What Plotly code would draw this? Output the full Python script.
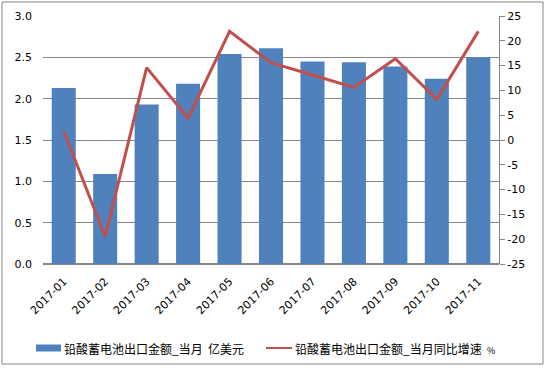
import plotly.graph_objects as go

months = ["2017-01", "2017-02", "2017-03", "2017-04", "2017-05", "2017-06",
          "2017-07", "2017-08", "2017-09", "2017-10", "2017-11"]
export_value = [2.13, 1.09, 1.93, 2.18, 2.54, 2.61, 2.45, 2.44, 2.39, 2.24, 2.50]
yoy_growth = [1.8, -19.5, 14.6, 4.4, 21.9, 15.6, 13.1, 10.6, 16.4, 8.2, 21.9]
right_ticks = [-25, -20, -15, -10, -5, 0, 5, 10, 15, 20, 25]
right_labels = [str(v) for v in right_ticks]

bar_name = "铅酸蓄电池出口金额_当月  亿美元"
line_name = "铅酸蓄电池出口金额_当月同比增速  <span style='font-size:9px'>%</span>"

BAR_COLOR = "#4F81BD"
LINE_COLOR = "#C0504D"
GRID = "#868686"

fig = go.Figure()
fig.add_trace(go.Bar(x=months, y=export_value, name=bar_name,
                     marker=dict(color=BAR_COLOR, line=dict(width=0)),
                     yaxis="y", showlegend=False))
fig.add_trace(go.Scatter(x=months, y=yoy_growth, name=line_name, mode="lines",
                         line=dict(color=LINE_COLOR, width=3),
                         yaxis="y2", showlegend=False))

tick_font = dict(family="DejaVu Sans, Verdana, sans-serif", size=11, color="#000000")
leg_font = dict(family="Noto Sans CJK SC, sans-serif", size=12, color="#000000")

W, H = 546, 368
L, R, T, B = 43, 47, 16, 104
PW, PH = W - L - R, H - T - B


def px(x):
    return (x - L) / PW


def py(y):
    return (H - B - y) / PH


LEG_Y = 348

shapes = [
    dict(type="rect", xref="paper", yref="paper",
         x0=px(2), x1=px(543), y0=py(364), y1=py(2),
         line=dict(color=GRID, width=1), fillcolor="rgba(0,0,0,0)", layer="below"),
    # legend symbols
    dict(type="rect", xref="paper", yref="paper",
         x0=px(36), x1=px(61), y0=py(LEG_Y + 3.5), y1=py(LEG_Y - 3.5),
         line=dict(width=0), fillcolor=BAR_COLOR),
    dict(type="line", xref="paper", yref="paper",
         x0=px(266), x1=px(292), y0=py(LEG_Y), y1=py(LEG_Y),
         line=dict(color=LINE_COLOR, width=2)),
]

annotations = [
    dict(text=bar_name, xref="paper", yref="paper", x=px(62), y=py(LEG_Y),
         xanchor="left", yanchor="middle", showarrow=False, font=leg_font),
    dict(text=line_name, xref="paper", yref="paper", x=px(293), y=py(LEG_Y),
         xanchor="left", yanchor="middle", showarrow=False, font=leg_font),
]

fig.update_layout(
    width=W, height=H,
    margin=dict(l=L, r=R, t=T, b=B, autoexpand=False),
    paper_bgcolor="white", plot_bgcolor="white",
    bargap=0.42,
    showlegend=False,
    xaxis=dict(type="category", tickangle=-45, tickfont=tick_font, automargin=False,
               showline=False, showgrid=False, ticks="", ticklabelstandoff=8),
    yaxis=dict(range=[0, 3], dtick=0.5, tickformat=".1f", tickfont=tick_font,
               automargin=False,
               showgrid=True, gridcolor=GRID, gridwidth=1,
               showline=False, zeroline=True, zerolinecolor=GRID,
               ticks="", ticklabelstandoff=10),
    yaxis2=dict(range=[-25, 25], tickvals=right_ticks, ticktext=right_labels,
                overlaying="y", side="right", automargin=False,
                tickfont=tick_font, showgrid=False, zeroline=False,
                showline=True, linecolor=GRID, linewidth=1,
                ticks="outside", ticklen=5, tickcolor=GRID),
    shapes=shapes,
    annotations=annotations,
)

fig.write_html("out.html", config={"displayModeBar": False},
               post_script="document.body.style.margin='0';document.body.style.overflow='hidden';")
